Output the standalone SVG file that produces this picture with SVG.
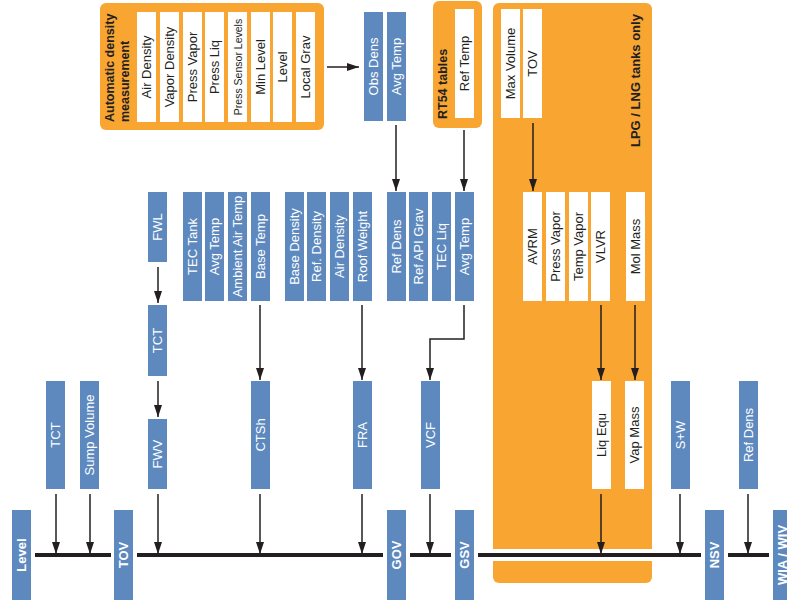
<svg xmlns="http://www.w3.org/2000/svg" width="787" height="606" viewBox="0 0 787 606">
<style>
text{font-family:"Liberation Sans",Arial,sans-serif;}
.b{fill:#5d89bf;}
.w{fill:#ffffff;}
.o{fill:#f8a532;}
.tb{font-size:13px;fill:#ffffff;text-anchor:middle;dominant-baseline:central;}
.tw{font-size:13px;fill:#231f20;text-anchor:middle;dominant-baseline:central;}
.bold{font-weight:bold;}
.ttl{font-size:12.5px;font-weight:bold;fill:#231f20;dominant-baseline:central;}
.c{stroke:#231f20;stroke-width:1.5;fill:none;marker-end:url(#ah);}
.bus{stroke:#231f20;stroke-width:4;fill:none;}
</style>
<defs>
<marker id="ah" markerWidth="12" markerHeight="8" refX="12" refY="4" orient="auto" markerUnits="userSpaceOnUse">
<path d="M0,0 L12,4 L0,8 z" fill="#231f20"/>
</marker>
</defs>

<g id="auto-density">
<rect class="o" x="100" y="3" width="224" height="127" rx="6"/>
<text class="ttl" transform="translate(110,122) rotate(-90)">Automatic density</text>
<text class="ttl" transform="translate(125,122) rotate(-90)">measurement</text>
<rect class="w" x="137" y="12" width="19" height="110"/><text class="tw" transform="translate(146.5,67) rotate(-90)">Air Density</text>
<rect class="w" x="160" y="12" width="19" height="110"/><text class="tw" transform="translate(169.5,67) rotate(-90)">Vapor Density</text>
<rect class="w" x="183" y="12" width="19" height="110"/><text class="tw" transform="translate(192.5,67) rotate(-90)">Press Vapor</text>
<rect class="w" x="205" y="12" width="19" height="110"/><text class="tw" transform="translate(214.5,67) rotate(-90)">Press Liq</text>
<rect class="w" x="228" y="12" width="19" height="110"/><text class="tw" style="font-size:10.5px" transform="translate(237.5,67) rotate(-90)">Press Sensor Levels</text>
<rect class="w" x="251" y="12" width="19" height="110"/><text class="tw" transform="translate(260.5,67) rotate(-90)">Min Level</text>
<rect class="w" x="273" y="12" width="19" height="110"/><text class="tw" transform="translate(282.5,67) rotate(-90)">Level</text>
<rect class="w" x="296" y="12" width="19" height="110"/><text class="tw" transform="translate(305.5,67) rotate(-90)">Local Grav</text>
</g>

<g id="obs-dens"><rect class="b" x="364" y="12" width="19" height="109"/><text class="tb" transform="translate(373.5,66.5) rotate(-90)">Obs Dens</text></g>
<g id="avg-temp-top"><rect class="b" x="387" y="12" width="19" height="109"/><text class="tb" transform="translate(396.5,66.5) rotate(-90)">Avg Temp</text></g>

<g id="rt54">
<rect class="o" x="433" y="1" width="49" height="127" rx="6"/>
<text class="ttl" transform="translate(442.5,119) rotate(-90)">RT54 tables</text>
<rect class="w" x="455" y="9" width="19" height="109"/><text class="tw" transform="translate(464.5,63.5) rotate(-90)">Ref Temp</text>
</g>

<g id="lpg">
<rect class="o" x="493" y="3" width="159" height="580" rx="6"/>
<text class="ttl" style="font-size:13px" transform="translate(635,147) rotate(-90)">LPG / LNG tanks only</text>
<rect class="w" x="501" y="9" width="19" height="109"/><text class="tw" transform="translate(510.5,63.5) rotate(-90)">Max Volume</text>
<rect class="w" x="523" y="9" width="19" height="109"/><text class="tw" transform="translate(532.5,63.5) rotate(-90)">TOV</text>
<rect class="w" x="523" y="192" width="19" height="109"/><text class="tw" transform="translate(532.5,246.5) rotate(-90)">AVRM</text>
<rect class="w" x="546" y="192" width="19" height="109"/><text class="tw" transform="translate(555.5,246.5) rotate(-90)">Press Vapor</text>
<rect class="w" x="569" y="192" width="19" height="109"/><text class="tw" transform="translate(578.5,246.5) rotate(-90)">Temp Vapor</text>
<rect class="w" x="591" y="192" width="19" height="109"/><text class="tw" transform="translate(600.5,246.5) rotate(-90)">VLVR</text>
<rect class="w" x="626" y="192" width="19" height="109"/><text class="tw" transform="translate(635.5,246.5) rotate(-90)">Mol Mass</text>
<rect class="w" x="592" y="381" width="19" height="108"/><text class="tw" transform="translate(601.5,435) rotate(-90)">Liq Equ</text>
<rect class="w" x="625" y="381" width="19" height="108"/><text class="tw" transform="translate(634.5,435) rotate(-90)">Vap Mass</text>
</g>

<g id="row2">
<g id="fwl"><rect class="b" x="148" y="192" width="19" height="70"/><text class="tb" transform="translate(157.5,227) rotate(-90)">FWL</text></g>
<g id="tec-tank"><rect class="b" x="183" y="192" width="19" height="109"/><text class="tb" transform="translate(192.5,246.5) rotate(-90)">TEC Tank</text></g>
<g id="avg-temp-1"><rect class="b" x="205" y="192" width="19" height="109"/><text class="tb" transform="translate(214.5,246.5) rotate(-90)">Avg Temp</text></g>
<g id="ambient"><rect class="b" x="228" y="192" width="19" height="109"/><text class="tb" transform="translate(237.5,246.5) rotate(-90)">Ambient Air Temp</text></g>
<g id="base-temp"><rect class="b" x="251" y="192" width="19" height="109"/><text class="tb" transform="translate(260.5,246.5) rotate(-90)">Base Temp</text></g>
<g id="base-density"><rect class="b" x="285" y="192" width="19" height="109"/><text class="tb" transform="translate(294.5,246.5) rotate(-90)">Base Density</text></g>
<g id="ref-density"><rect class="b" x="307" y="192" width="19" height="109"/><text class="tb" transform="translate(316.5,246.5) rotate(-90)">Ref. Density</text></g>
<g id="air-density"><rect class="b" x="330" y="192" width="19" height="109"/><text class="tb" transform="translate(339.5,246.5) rotate(-90)">Air Density</text></g>
<g id="roof-weight"><rect class="b" x="353" y="192" width="19" height="109"/><text class="tb" transform="translate(362.5,246.5) rotate(-90)">Roof Weight</text></g>
<g id="ref-dens-1"><rect class="b" x="387" y="192" width="19" height="109"/><text class="tb" transform="translate(396.5,246.5) rotate(-90)">Ref Dens</text></g>
<g id="ref-api"><rect class="b" x="409" y="192" width="19" height="109"/><text class="tb" transform="translate(418.5,246.5) rotate(-90)">Ref API Grav</text></g>
<g id="tec-liq"><rect class="b" x="432" y="192" width="19" height="109"/><text class="tb" transform="translate(441.5,246.5) rotate(-90)">TEC Liq</text></g>
<g id="avg-temp-2"><rect class="b" x="455" y="192" width="19" height="109"/><text class="tb" transform="translate(464.5,246.5) rotate(-90)">Avg Temp</text></g>
</g>

<g id="tct-mid"><rect class="b" x="148" y="305" width="19" height="71"/><text class="tb" transform="translate(157.5,340.5) rotate(-90)">TCT</text></g>

<g id="row3">
<g id="tct"><rect class="b" x="46" y="381" width="19" height="108"/><text class="tb" transform="translate(55.5,435) rotate(-90)">TCT</text></g>
<g id="sump"><rect class="b" x="80" y="381" width="19" height="108"/><text class="tb" transform="translate(89.5,435) rotate(-90)">Sump Volume</text></g>
<g id="fwv"><rect class="b" x="148" y="419" width="19" height="70"/><text class="tb" transform="translate(157.5,454) rotate(-90)">FWV</text></g>
<g id="ctsh"><rect class="b" x="251" y="381" width="19" height="108"/><text class="tb" transform="translate(260.5,435) rotate(-90)">CTSh</text></g>
<g id="fra"><rect class="b" x="353" y="381" width="19" height="108"/><text class="tb" transform="translate(362.5,435) rotate(-90)">FRA</text></g>
<g id="vcf"><rect class="b" x="421" y="381" width="19" height="108"/><text class="tb" transform="translate(430.5,435) rotate(-90)">VCF</text></g>
<g id="sw"><rect class="b" x="671" y="381" width="19" height="108"/><text class="tb" transform="translate(680.5,435) rotate(-90)">S+W</text></g>
<g id="ref-dens-2"><rect class="b" x="739" y="381" width="19" height="108"/><text class="tb" transform="translate(748.5,435) rotate(-90)">Ref Dens</text></g>
</g>

<g id="connectors">
<line x1="478" y1="555" x2="701" y2="555" stroke="#ffffff" stroke-width="12"/>
<path class="bus" d="M35,555H111 M137,555H383 M410,555H451 M478,555H701 M728,555H769"/>
<path class="c" d="M327,67H359"/>
<path class="c" d="M396,125V191"/>
<path class="c" d="M464,130V191"/>
<path class="c" d="M533,123V191"/>
<path class="c" d="M158,267V303"/>
<path class="c" d="M158,381V417"/>
<path class="c" d="M260,305V380"/>
<path class="c" d="M362,305V380"/>
<path class="c" d="M464,305V339H430V380"/>
<path class="c" d="M601,305V380"/>
<path class="c" d="M635,305V380"/>
<path class="c" d="M56,494V554"/>
<path class="c" d="M90,494V554"/>
<path class="c" d="M158,494V554"/>
<path class="c" d="M260,494V554"/>
<path class="c" d="M362,494V554"/>
<path class="c" d="M430,494V554"/>
<path class="c" d="M601,494V554"/>
<path class="c" d="M680,494V554"/>
<path class="c" d="M748,494V554"/>
</g>

<g id="row4">
<g id="level"><rect class="b" x="12" y="510" width="19" height="90"/><text class="tb bold" transform="translate(21.5,555) rotate(-90)">Level</text></g>
<g id="tov"><rect class="b" x="114" y="510" width="19" height="90"/><text class="tb bold" transform="translate(123.5,555) rotate(-90)">TOV</text></g>
<g id="gov"><rect class="b" x="387" y="510" width="19" height="90"/><text class="tb bold" transform="translate(396.5,555) rotate(-90)">GOV</text></g>
<g id="gsv"><rect class="b" x="455" y="510" width="19" height="90"/><text class="tb bold" transform="translate(464.5,555) rotate(-90)">GSV</text></g>
<g id="nsv"><rect class="b" x="705" y="510" width="19" height="90"/><text class="tb bold" transform="translate(714.5,555) rotate(-90)">NSV</text></g>
<g id="wia"><rect class="b" x="773" y="510" width="19" height="90"/><text class="tb bold" transform="translate(782.5,555) rotate(-90)">WIA / WIV</text></g>
</g>
</svg>
